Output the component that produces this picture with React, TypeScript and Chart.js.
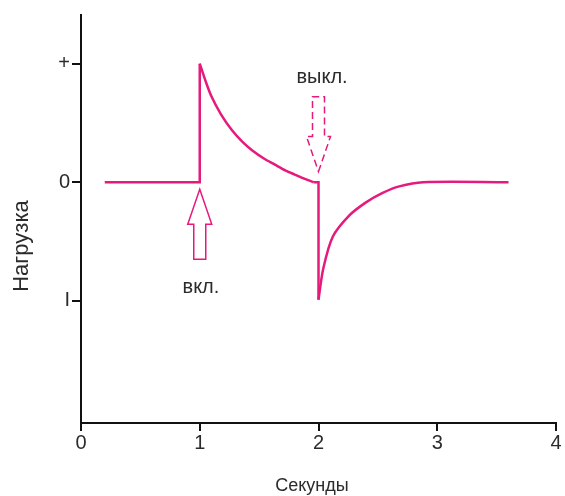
import React, { useEffect, useRef } from "react";
import { Chart, registerables } from "chart.js";

Chart.register(...registerables);

const PINK = "#e6197d";
const INK = "#2b2b2b";
const FONT = '"Liberation Sans", Arial, sans-serif';

// Segments (x in seconds, y = load)
const stepOnX = [0.2, 1.0, 1.0];
const stepOnY = [0, 0, 1.0];
const decayX = [1.0, 1.05, 1.1, 1.18, 1.27, 1.36, 1.44, 1.54, 1.63, 1.72, 1.8, 1.88, 1.96];
const decayY = [1.0, 0.85, 0.72, 0.57, 0.44, 0.34, 0.27, 0.2, 0.15, 0.1, 0.065, 0.03, 0.0];
const stepOffX = [1.96, 2.0, 2.0];
const stepOffY = [0, 0, -0.99];
const recoverX = [2.0, 2.04, 2.12, 2.26, 2.4, 2.54, 2.68, 2.88, 3.6];
const recoverY = [-0.99, -0.73, -0.46, -0.28, -0.17, -0.09, -0.035, 0, 0];

const xTicks = [0, 1, 2, 3, 4];
const yTicks = [1, 0, -1];
const yTickLabels = ["+", "0", "I"];

const xTitle = "Секунды";
const yTitle = "Нагрузка";

// Annotations (data units)
const onArrow = { x: 1.0, tip: -0.06, tail: -0.65, label: "вкл.", labelX: 1.01, labelY: -0.89 };
const offArrow = { x: 2.0, tip: 0.09, tail: 0.72, label: "выкл.", labelX: 2.03, labelY: 0.88 };

const zip = (xs: number[], ys: number[]) => xs.map((x, i) => ({ x, y: ys[i] }));

const annotPlugin = {
  id: "annot",
  afterDraw(chart: any) {
    const ctx = chart.ctx as CanvasRenderingContext2D;
    const xs = chart.scales.x;
    const ys = chart.scales.y;
    ctx.save();
    ctx.fillStyle = INK;
    ctx.textAlign = "center";
    ctx.textBaseline = "middle";
    // titles
    ctx.font = `18px ${FONT}`;
    ctx.fillText(xTitle, 312, 486);
    ctx.save();
    ctx.translate(22, 246);
    ctx.rotate(-Math.PI / 2);
    ctx.font = `22px ${FONT}`;
    ctx.fillText(yTitle, 0, 0);
    ctx.restore();

    ctx.font = `20px ${FONT}`;
    const drawArrow = (a: any, dashed: boolean) => {
      const cx = xs.getPixelForValue(a.x);
      const tip = ys.getPixelForValue(a.tip);
      const tail = ys.getPixelForValue(a.tail);
      const dir = tail > tip ? 1 : -1;
      const headLen = 35;
      const headHalf = 12;
      const shaftHalf = 6;
      const base = tip + dir * headLen;
      ctx.beginPath();
      ctx.moveTo(cx, tip);
      ctx.lineTo(cx + headHalf, base);
      ctx.lineTo(cx + shaftHalf, base);
      ctx.lineTo(cx + shaftHalf, tail);
      ctx.lineTo(cx - shaftHalf, tail);
      ctx.lineTo(cx - shaftHalf, base);
      ctx.lineTo(cx - headHalf, base);
      ctx.closePath();
      ctx.strokeStyle = PINK;
      ctx.lineWidth = 1.5;
      ctx.setLineDash(dashed ? [7, 4] : []);
      ctx.stroke();
      ctx.setLineDash([]);
      ctx.fillStyle = INK;
      ctx.fillText(a.label, xs.getPixelForValue(a.labelX), ys.getPixelForValue(a.labelY));
    };
    drawArrow(onArrow, false);
    drawArrow(offArrow, true);
    ctx.restore();
  },
};

export default function App() {
  const ref = useRef<HTMLCanvasElement>(null);
  useEffect(() => {
    if (!ref.current) return;
    const ds = (data: any, smooth: boolean) => ({
      data,
      borderColor: PINK,
      borderWidth: 2.5,
      pointRadius: 0,
      fill: false,
      tension: smooth ? 0.3 : 0,
      cubicInterpolationMode: "default",
      borderJoinStyle: "miter",
    });
    const chart = new Chart(ref.current, {
      type: "line",
      data: {
        datasets: [
          ds(zip(stepOnX, stepOnY), false),
          ds(zip(decayX, decayY), true),
          ds(zip(stepOffX, stepOffY), false),
          ds(zip(recoverX, recoverY), true),
        ] as any,
      },
      options: {
        animation: false,
        responsive: false,
        maintainAspectRatio: false,
        layout: { padding: { left: 0, right: 9, top: 15, bottom: 0 } },
        plugins: { legend: { display: false }, tooltip: { enabled: false } },
        scales: {
          x: {
            type: "linear",
            min: 0,
            max: 4,
            afterBuildTicks: (s: any) => {
              s.ticks = xTicks.map((v) => ({ value: v }));
            },
            afterFit: (s: any) => {
              s.height = 73;
            },
            grid: {
              display: true,
              drawOnChartArea: false,
              drawTicks: true,
              tickLength: 8,
              color: "#111",
              lineWidth: 2,
            },
            border: { display: true, color: "#111", width: 2 },
            ticks: {
              color: INK,
              padding: 0,
              font: { family: FONT, size: 20 },
            },
          },
          y: {
            type: "linear",
            min: -2.03,
            max: 1.41,
            afterBuildTicks: (s: any) => {
              s.ticks = yTicks.map((v) => ({ value: v }));
            },
            afterFit: (s: any) => {
              s.width = 81;
            },
            grid: {
              display: true,
              drawOnChartArea: false,
              drawTicks: true,
              tickLength: 9,
              color: "#111",
              lineWidth: 2,
            },
            border: { display: true, color: "#111", width: 2 },
            ticks: {
              color: INK,
              padding: 2,
              font: { family: FONT, size: 20 },
              callback: (v: any) => {
                const i = yTicks.indexOf(Number(v));
                return i >= 0 ? yTickLabels[i] : "";
              },
            },
          },
        },
      },
      plugins: [annotPlugin],
    });
    return () => chart.destroy();
  }, []);
  return (
    <div style={{ position: "fixed", left: 0, top: 0, width: 565, height: 496, background: "#fff" }}>
      <canvas ref={ref} width={565} height={496} style={{ width: 565, height: 496 }} />
    </div>
  );
}
